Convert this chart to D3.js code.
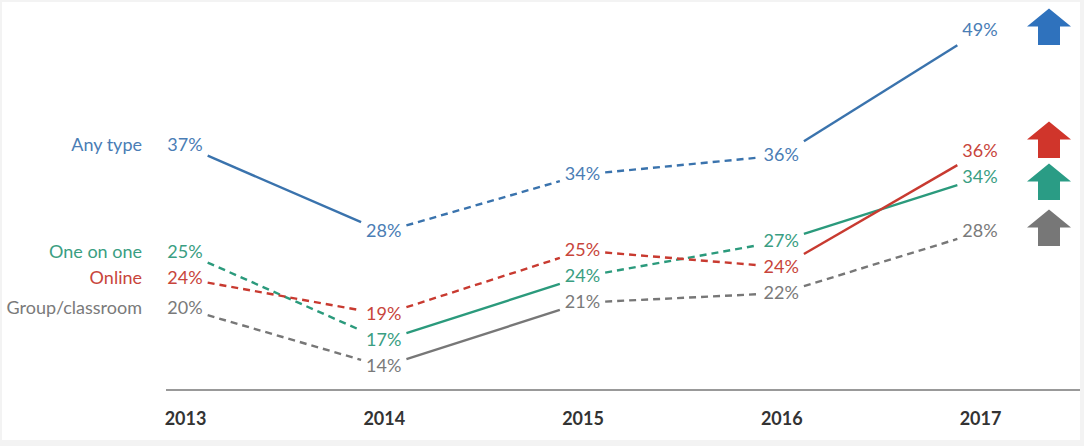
<!DOCTYPE html>
<html>
<head>
<meta charset="utf-8">
<script src="https://cdn.jsdelivr.net/npm/d3@7"></script>
<style>
  html, body { margin: 0; padding: 0; background: #f3f3f3; }
  svg { display: block; }
  text { font-family: Lato, "Open Sans", sans-serif; }
</style>
</head>
<body>
<svg id="chart" width="1084" height="446"></svg>
<script>
// Data
const years = ["2013", "2014", "2015", "2016", "2017"];
const seriesNames = ["Any type", "One on one", "Online", "Group/classroom"];
const anyType = [37, 28, 34, 36, 49];
const oneOnOne = [25, 17, 24, 27, 34];
const online = [24, 19, 25, 24, 36];
const groupClass = [20, 14, 21, 22, 28];
// segment between year i and i+1: true = solid (significant), false = dashed
const anyTypeSolid = [true, false, false, true];
const oneOnOneSolid = [false, true, false, true];
const onlineSolid = [false, false, false, true];
const groupClassSolid = [false, true, false, false];

const lineColours = ["#3a73ad", "#2b9a7c", "#c83a30", "#777777"];
const textColours = ["#4a7db5", "#3a9e82", "#c8453b", "#7a7a7a"];
const arrowColours = ["#2f72bd", "#2a9c85", "#d0352b", "#777777"];

const series = seriesNames.map((name, i) => ({
    name,
    values: [anyType, oneOnOne, online, groupClass][i],
    solid: [anyTypeSolid, oneOnOneSolid, onlineSolid, groupClassSolid][i],
    line: lineColours[i],
    text: textColours[i],
    arrow: arrowColours[i]
}));

const svg = d3.select("#chart");

// white panel inside light frame
svg.append("rect")
    .attr("x", 2).attr("y", 2)
    .attr("width", 1078).attr("height", 438)
    .attr("fill", "#ffffff");

const x = d3.scalePoint().domain(years).range([185, 980]);
const y = d3.scaleLinear().domain([14, 49]).range([365, 30]);

// push labels apart so they don't overlap
function resolve(items, gap) {
    const sorted = items.slice().sort((a, b) => a.y - b.y);
    for (let iter = 0; iter < 50; iter++) {
        let moved = false;
        for (let i = 1; i < sorted.length; i++) {
            const d = sorted[i].y - sorted[i - 1].y;
            if (d < gap) {
                const shift = (gap - d) / 2;
                sorted[i - 1].y -= shift;
                sorted[i].y += shift;
                moved = true;
            }
        }
        if (!moved) break;
    }
}

// label positions per year
const labelPos = series.map(() => []);
years.forEach((yr, j) => {
    const items = series.map((s, i) => ({ i, y: y(s.values[j]) }));
    resolve(items, 26);
    items.forEach(it => { labelPos[it.i][j] = it.y; });
});

// data labels
const labelGroup = svg.append("g");
const halfW = series.map(() => []);
series.forEach((s, i) => {
    s.values.forEach((v, j) => {
        const t = labelGroup.append("text")
            .attr("x", x(years[j]))
            .attr("y", labelPos[i][j])
            .attr("dy", "0.36em")
            .attr("text-anchor", "middle")
            .attr("font-size", "18px")
            .attr("fill", s.text)
            .text(v + "%");
        halfW[i][j] = t.node().getComputedTextLength() / 2;
    });
});

// line segments, trimmed around labels
const lineGroup = svg.append("g");
series.forEach((s, i) => {
    for (let j = 0; j < years.length - 1; j++) {
        const x1 = x(years[j]), y1 = labelPos[i][j];
        const x2 = x(years[j + 1]), y2 = labelPos[i][j + 1];
        const sx = x1 + halfW[i][j] + 5;
        const ex = x2 - halfW[i][j + 1] - 5;
        const slope = (y2 - y1) / (x2 - x1);
        lineGroup.append("line")
            .attr("x1", sx).attr("y1", y1 + slope * (sx - x1) + 1)
            .attr("x2", ex).attr("y2", y1 + slope * (ex - x1) + 1)
            .attr("stroke", s.line)
            .attr("stroke-width", 2.4)
            .attr("stroke-dasharray", s.solid[j] ? null : "7,5");
    }
});

// series names on the left
svg.append("g").selectAll("text")
    .data(series)
    .enter()
    .append("text")
    .attr("x", 142)
    .attr("y", (d, i) => labelPos[i][0])
    .attr("dy", "0.36em")
    .attr("text-anchor", "end")
    .attr("font-size", "18px")
    .attr("fill", d => d.text)
    .text(d => d.name);

// trend arrows on the right
const last = years.length - 1;
const arrowItems = series.map((s, i) => ({ s, y: labelPos[i][last] }));
resolve(arrowItems, 42);
const arrowPath = "M0,-18.5 L22,-0.5 L11,-0.5 L11,18 L-11,18 L-11,-0.5 L-22,-0.5 Z";
svg.append("g").selectAll("path")
    .data(arrowItems)
    .enter()
    .append("path")
    .attr("d", arrowPath)
    .attr("transform", d => `translate(1049, ${d.y - 3})`)
    .attr("fill", d => d.s.arrow);

// baseline and year axis
svg.append("line")
    .attr("x1", 166).attr("x2", 1080)
    .attr("y1", 390).attr("y2", 390)
    .attr("stroke", "#999999")
    .attr("stroke-width", 2);

const axis = svg.append("g")
    .attr("transform", "translate(0, 390)")
    .call(d3.axisBottom(x).tickSize(0).tickPadding(22));
axis.select(".domain").remove();
axis.selectAll("text")
    .attr("font-family", "Lato, sans-serif")
    .attr("font-size", "18px")
    .attr("font-weight", "bold")
    .attr("fill", "#333333");
</script>
</body>
</html>
